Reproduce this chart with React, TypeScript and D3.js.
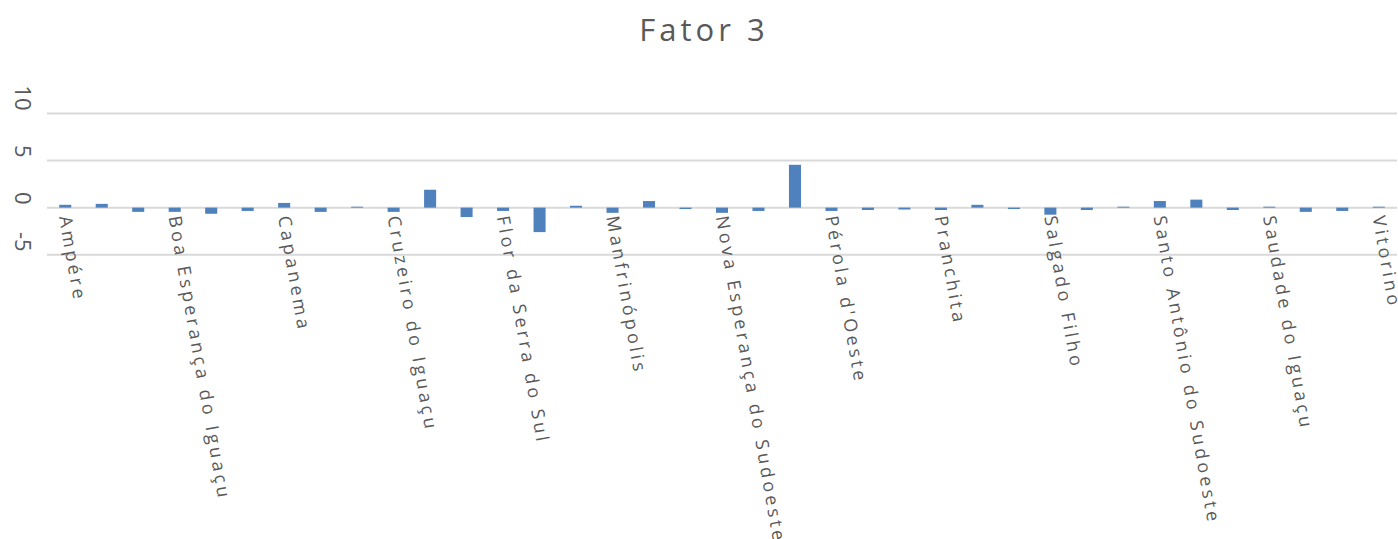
import React from 'react';
import * as d3 from 'd3';

const municipios = [
  'Ampére', 'Barracão', 'Bela Vista da Caroba', 'Boa Esperança do Iguaçu', 'Bom Jesus do Sul',
  'Bom Sucesso do Sul', 'Capanema', 'Chopinzinho', 'Coronel Vivida', 'Cruzeiro do Iguaçu',
  'Dois Vizinhos', 'Enéas Marques', 'Flor da Serra do Sul', 'Francisco Beltrão', "Itapejara d'Oeste",
  'Manfrinópolis', 'Mariópolis', 'Marmeleiro', 'Nova Esperança do Sudoeste', 'Nova Prata do Iguaçu',
  'Pato Branco', "Pérola d'Oeste", 'Pinhal de São Bento', 'Planalto', 'Pranchita',
  'Realeza', 'Renascença', 'Salgado Filho', 'Salto do Lontra', 'Santa Izabel do Oeste',
  'Santo Antônio do Sudoeste', 'São João', "São Jorge d'Oeste", 'Saudade do Iguaçu', 'Sulina',
  'Verê', 'Vitorino',
];

const fator3 = [
  0.3, 0.4, -0.45, -0.45, -0.65, -0.35, 0.5, -0.45, 0.1, -0.45,
  1.9, -1.0, -0.35, -2.6, 0.2, -0.55, 0.7, -0.15, -0.55, -0.35,
  4.55, -0.35, -0.25, -0.2, -0.25, 0.3, -0.15, -0.75, -0.25, 0.1,
  0.7, 0.85, -0.25, 0.1, -0.45, -0.35, 0.1,
];

const yTicks = [-5, 0, 5, 10];

const W = 1398;
const H = 539;
const TEXT = '#595959';
const FONT = '"Open Sans", "DejaVu Sans", sans-serif';

export default function App() {
  const x = d3.scaleBand<string>()
    .domain(municipios)
    .range([47, 1397])
    .paddingInner(0.67)
    .paddingOuter(0.335);

  const y = d3.scaleLinear().domain([-5, 10]).range([254.7, 113.5]);

  // so um rotulo a cada tres categorias, como no Excel
  const shown = municipios.filter((_, i) => i % 3 === 0);

  return (
    <svg width={W} height={H} style={{ position: 'absolute', left: 0, top: 0, background: '#fff' }}>
      <text x={704} y={41} textAnchor="middle" fill={TEXT} fontFamily={FONT}
        fontSize={31} letterSpacing={4}>Fator 3</text>

      {yTicks.map(t => (
        <line key={'g' + t} x1={47} x2={1397} y1={y(t)} y2={y(t)} stroke="#d9d9d9" strokeWidth={2} />
      ))}

      {yTicks.map(t => (
        <g key={'t' + t} transform={`translate(23,${y(t) - 3}) rotate(90)`}>
          <text x={0} y={0} textAnchor="end" dy="0.35em" fill={TEXT} fontFamily={FONT}
            fontSize={22}>
            {String(t)}
          </text>
        </g>
      ))}

      {municipios.map((m, i) => {
        const v = fator3[i];
        return (
          <rect key={m} x={x(m)} width={x.bandwidth()}
            y={Math.min(y(v), y(0))} height={Math.abs(y(v) - y(0))} fill="#4f81bd" />
        );
      })}

      {shown.map(m => (
        <g key={'l' + m} transform={`translate(${(x(m) || 0) + x.bandwidth() / 2},216) rotate(80)`}>
          <text x={0} y={0} dy="0.35em" fill={TEXT} fontFamily={FONT} fontSize={18} letterSpacing={3.4}>
            {m}
          </text>
        </g>
      ))}
    </svg>
  );
}
